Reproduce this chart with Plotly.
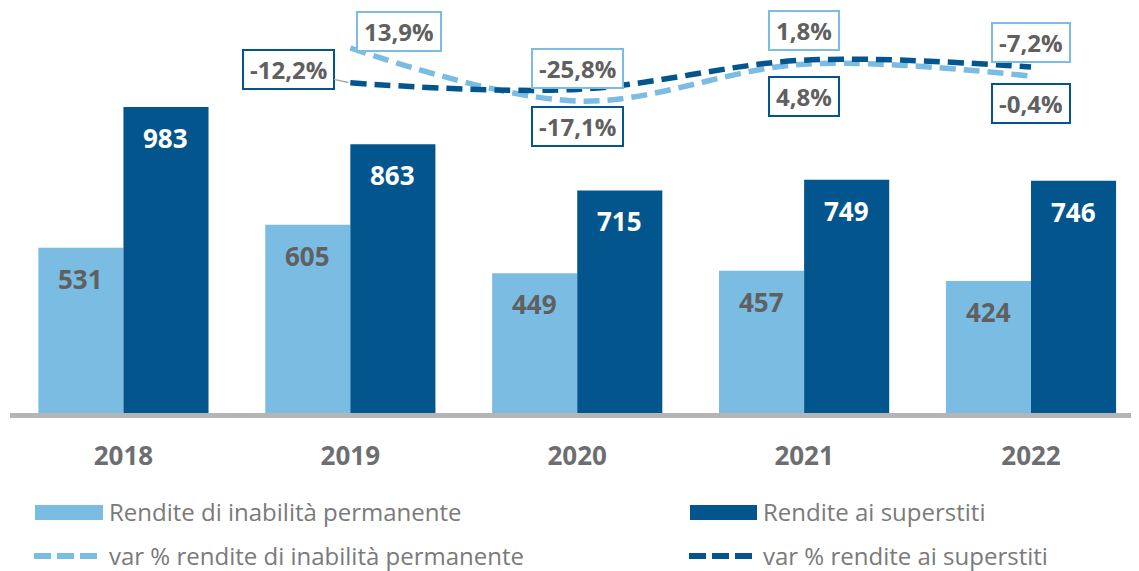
import plotly.graph_objects as go

# ---- data ----
years = ["2018", "2019", "2020", "2021", "2022"]
inabilita = [531, 605, 449, 457, 424]
superstiti = [983, 863, 715, 749, 746]
var_inabilita = [None, 13.9, -25.8, 1.8, -7.2]
var_superstiti = [None, -12.2, -17.1, 4.8, -0.4]

name_inab = "Rendite di inabilità permanente"
name_sup = "Rendite ai superstiti"
name_var_inab = "var % rendite di inabilità permanente"
name_var_sup = "var % rendite ai superstiti"

# ---- style ----
LIGHT = "#7bbce3"
DARK = "#02568d"
GRAY_TXT = "#606060"
AXIS_TXT = "#6d6e71"
LEG_TXT = "#7a7a7a"
FONT = "Open Sans"

PAGE_OFF = 8  # default body margin of the html page
W, H = 1131, 563
ML, MR, MT, MB = 2, 0, 0, 158
PW = W - ML - MR
PH = H - MT - MB

def fmt_pct(v):
    return f"{v:.1f}".replace(".", ",") + "%"

fig = go.Figure()
fig.add_trace(go.Bar(x=years, y=inabilita, name=name_inab, marker_color=LIGHT,
                     marker_line_width=0, showlegend=False, hoverinfo="skip"))
fig.add_trace(go.Bar(x=years, y=superstiti, name=name_sup, marker_color=DARK,
                     marker_line_width=0, showlegend=False, hoverinfo="skip"))

xs = [y for y, v in zip(years, var_inabilita) if v is not None]
fig.add_trace(go.Scatter(x=xs, y=[v for v in var_inabilita if v is not None], yaxis="y2",
                         mode="lines", line=dict(color=LIGHT, width=5.5, dash="16px,8px", shape="spline"),
                         name=name_var_inab, showlegend=False))
xs2 = [y for y, v in zip(years, var_superstiti) if v is not None]
fig.add_trace(go.Scatter(x=xs2, y=[v for v in var_superstiti if v is not None], yaxis="y2",
                         mode="lines", line=dict(color=DARK, width=5.5, dash="16px,8px", shape="spline"),
                         name=name_var_sup, showlegend=False))

annotations = []
# bar value labels
off = 0.1875
for i, (a, b) in enumerate(zip(inabilita, superstiti)):
    annotations.append(dict(x=i - off, y=a, xref="x", yref="y", text=str(a), showarrow=False,
                            yshift=-31, yanchor="middle",
                            font=dict(family=FONT, size=26, color=GRAY_TXT, weight="bold")))
    annotations.append(dict(x=i + off, y=b, xref="x", yref="y", text=str(b), showarrow=False,
                            yshift=-31, yanchor="middle",
                            font=dict(family=FONT, size=26, color="white", weight="bold")))

# percentage labels (offsets in px relative to the point)
inab_shift = {1: (49, 16.5), 2: (0, 32.5), 3: (0, 33.7), 4: (0, 33.7)}
sup_shift = {2: (0, -37), 3: (0, -36), 4: (0, -36)}
box_style = dict(height=25, borderpad=6, borderwidth=2, bgcolor="white")
for i, v in enumerate(var_inabilita):
    if v is None:
        continue
    dx, dy = inab_shift[i]
    annotations.append(dict(x=i, y=v, xref="x", yref="y2", text=fmt_pct(v), showarrow=False,
                            xshift=dx, yshift=dy, bordercolor=LIGHT, **box_style,
                            font=dict(family=FONT, size=24, color=GRAY_TXT, weight="bold")))
for i, v in enumerate(var_superstiti):
    if v is None:
        continue
    if i in sup_shift:
        dx, dy = sup_shift[i]
        annotations.append(dict(x=i, y=v, xref="x", yref="y2", text=fmt_pct(v), showarrow=False,
                                xshift=dx, yshift=dy, bordercolor=DARK, **box_style,
                                font=dict(family=FONT, size=24, color=GRAY_TXT, weight="bold")))
    else:
        annotations.append(dict(x=i, y=v, xref="x", yref="y2", text=fmt_pct(v), showarrow=True,
                                ax=-62, ay=-13, arrowhead=0, arrowwidth=1.5, arrowcolor="#a8a8a8",
                                standoff=2, bordercolor=DARK, **box_style,
                                font=dict(family=FONT, size=24, color=GRAY_TXT, weight="bold")))

# custom legend (positions given in page pixels)
def px(xp):
    return (xp - PAGE_OFF - ML) / PW

def py(yp):
    return (MT + PH - (yp - PAGE_OFF)) / PH

shapes = [
    dict(type="rect", xref="paper", yref="paper", x0=px(35), x1=px(103), y0=py(520), y1=py(505),
         fillcolor=LIGHT, line_width=0),
    dict(type="rect", xref="paper", yref="paper", x0=px(690), x1=px(757), y0=py(520), y1=py(505),
         fillcolor=DARK, line_width=0),
    dict(type="line", xref="paper", yref="paper", x0=px(34), x1=px(100), y0=py(556), y1=py(556),
         line=dict(color=LIGHT, width=6, dash="17px,6px")),
    dict(type="line", xref="paper", yref="paper", x0=px(689), x1=px(755), y0=py(556), y1=py(556),
         line=dict(color=DARK, width=6, dash="17px,6px")),
]
for txt, xp, yp in [(name_inab, 107, 511), (name_sup, 761, 511),
                    (name_var_inab, 107, 555), (name_var_sup, 761, 555)]:
    annotations.append(dict(x=px(xp), y=py(yp), xref="paper", yref="paper", text=txt,
                            showarrow=False, xanchor="left", yanchor="middle",
                            font=dict(family=FONT, size=24, color=LEG_TXT)))

fig.update_layout(
    width=W, height=H, autosize=False,
    margin=dict(l=ML, r=MR, t=MT, b=MB, pad=0),
    paper_bgcolor="white", plot_bgcolor="white",
    barmode="group", bargap=0.25, bargroupgap=0,
    showlegend=False,
    xaxis=dict(type="category", range=[-0.5, 4.476], showgrid=False, zeroline=False,
               showline=True, linecolor="#b5b5b8", linewidth=5, ticks="",
               ticklabelstandoff=16,
               tickfont=dict(family=FONT, size=26, color=AXIS_TXT, weight="bold")),
    yaxis=dict(range=[0, 1301], visible=False, showgrid=False, zeroline=False),
    yaxis2=dict(range=[-259.5, 43.86], overlaying="y", visible=False, showgrid=False, zeroline=False),
    annotations=annotations,
    shapes=shapes,
    font=dict(family=FONT),
)

fig.write_html("out.html")
